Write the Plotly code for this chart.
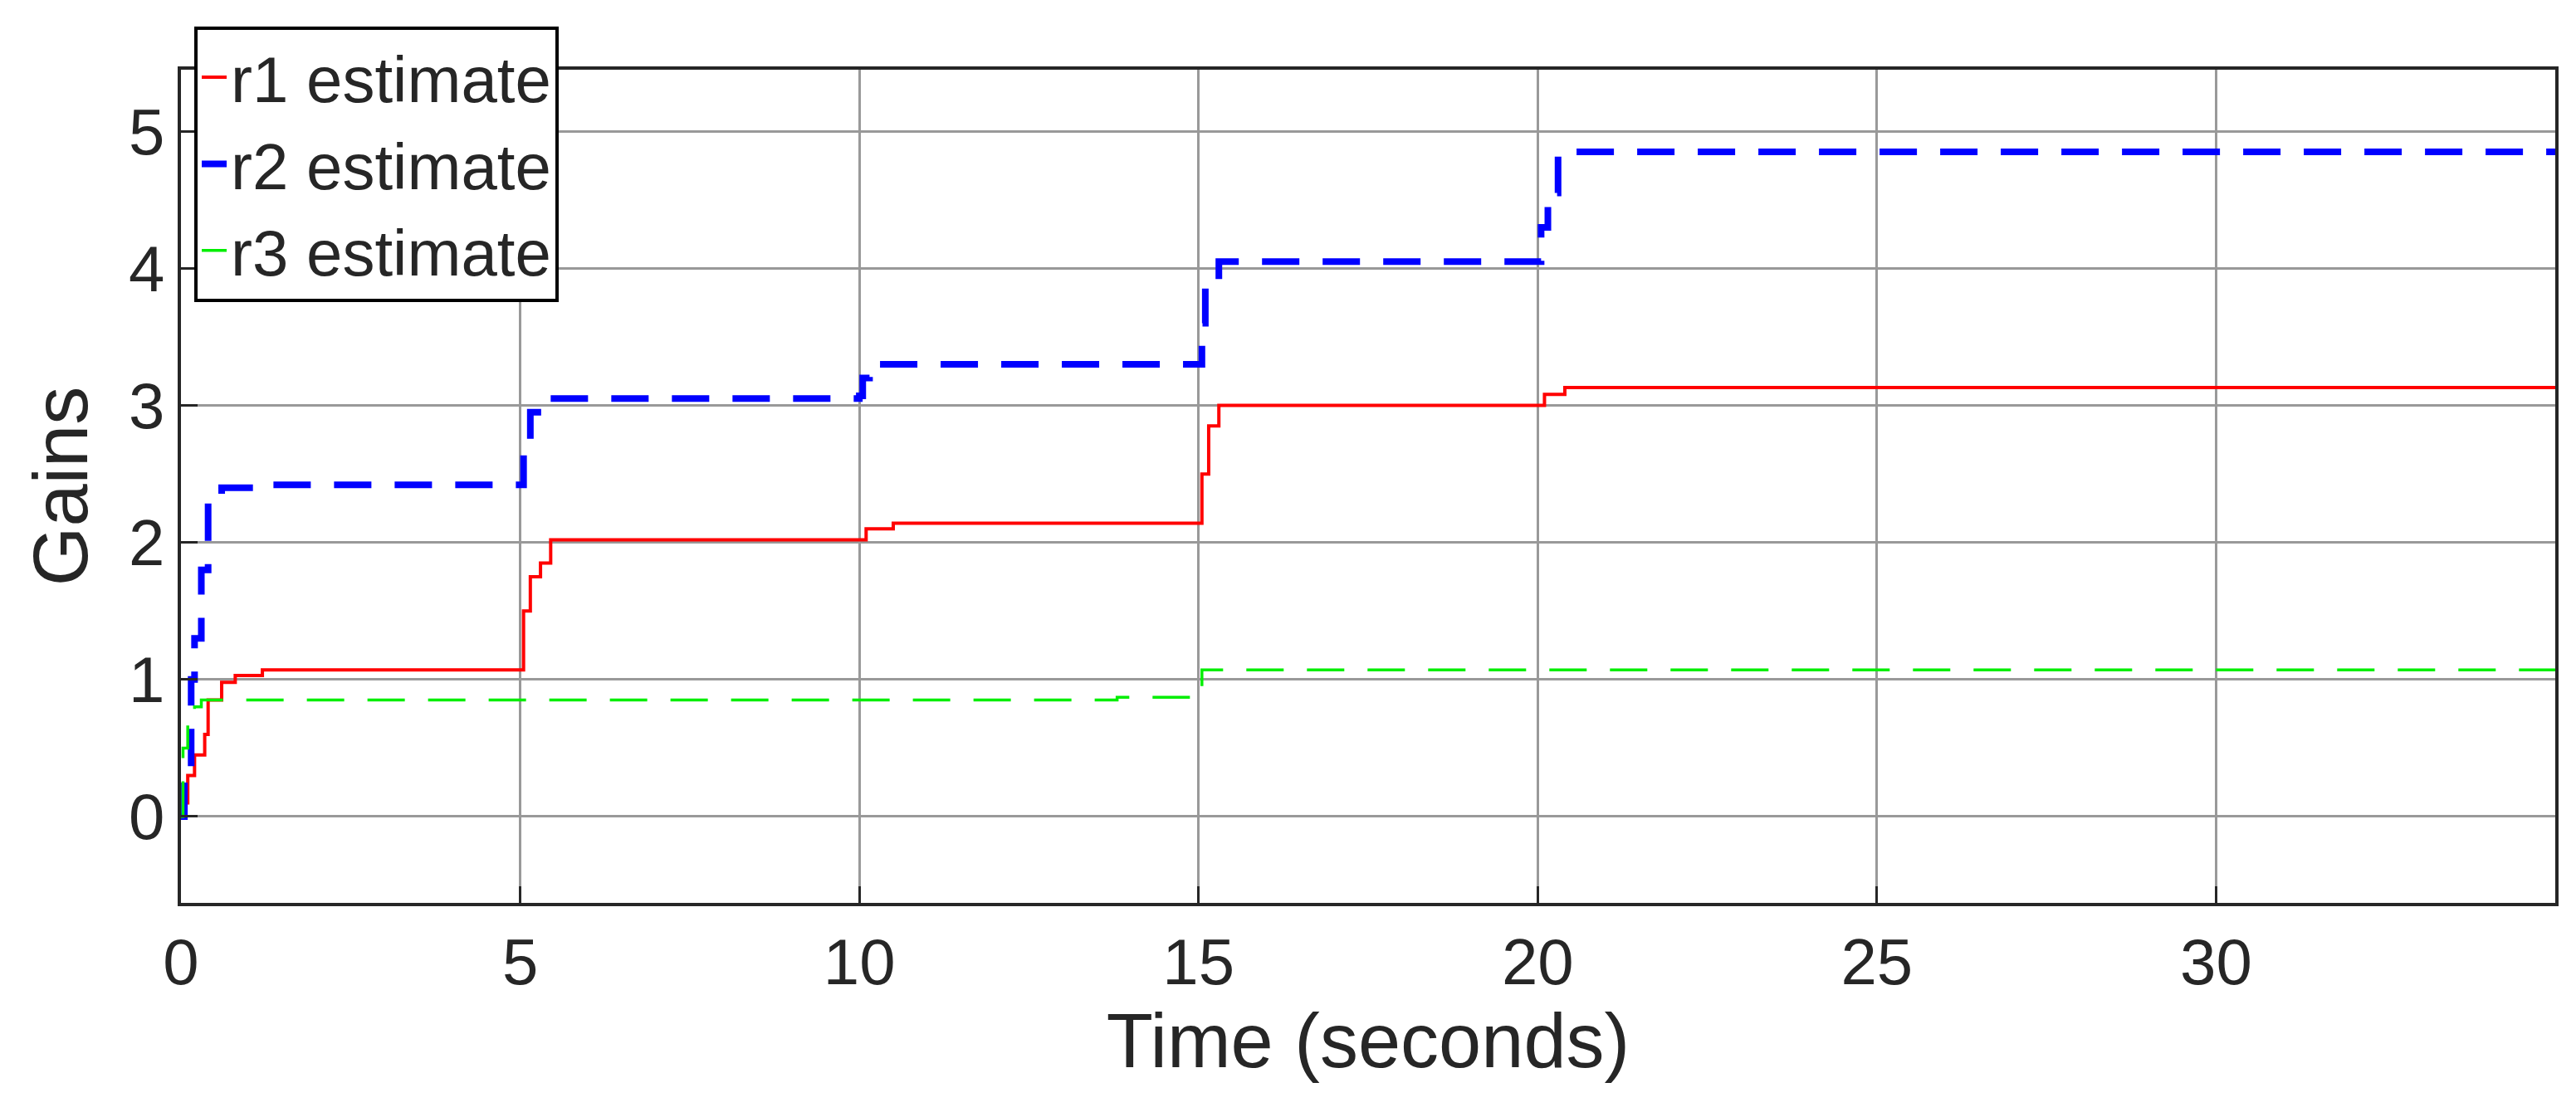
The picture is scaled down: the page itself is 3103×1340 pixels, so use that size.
import plotly.graph_objects as go

t1 = [0, 0.05, 0.1, 0.2, 0.35, 0.4, 0.6, 0.8, 1.2, 5.0, 5.05, 5.15, 5.3, 5.45, 10.0, 10.1, 10.5, 15.0, 15.05, 15.15, 15.3, 20.0, 20.1, 20.4, 35]
r1 = [0, 0.1, 0.3, 0.45, 0.6, 0.85, 0.98, 1.03, 1.07, 1.07, 1.5, 1.75, 1.85, 2.02, 2.02, 2.1, 2.14, 2.14, 2.5, 2.85, 3.0, 3.0, 3.08, 3.13, 3.13]
t2 = [0, 0.05, 0.15, 0.2, 0.3, 0.4, 0.6, 1.2, 5.0, 5.05, 5.15, 5.35, 10.0, 10.05, 10.15, 15.0, 15.05, 15.1, 15.3, 20.0, 20.05, 20.15, 20.3, 35]
r2 = [0, 0.3, 1.0, 1.3, 1.8, 2.3, 2.4, 2.42, 2.42, 2.7, 2.95, 3.05, 3.07, 3.2, 3.3, 3.3, 3.6, 3.9, 4.05, 4.05, 4.3, 4.55, 4.85, 4.85]
t3 = [0, 0.03, 0.1, 0.2, 0.3, 13.8, 15.0, 15.05, 35]
r3 = [0, 0.5, 0.75, 0.8, 0.85, 0.87, 0.88, 1.07, 1.07]
xticks = [0, 5, 10, 15, 20, 25, 30, 35]
yticks = [0, 1, 2, 3, 4, 5]

fig = go.Figure()
fig.add_trace(go.Scatter(x=t1, y=r1, mode="lines", line_shape="hv", name="r1 estimate",
                         line=dict(color="#ff0000", width=4)))
fig.add_trace(go.Scatter(x=t2, y=r2, mode="lines", line_shape="hv", name="r2 estimate",
                         line=dict(color="#0000ff", width=8, dash="45px,28px")))
fig.add_trace(go.Scatter(x=t3, y=r3, mode="lines", line_shape="hv", name="r3 estimate",
                         line=dict(color="#00ee00", width=3.5, dash="45px,28px")))

ax = dict(showline=True, linecolor="#262626", linewidth=4, mirror=True, ticks="inside",
          ticklen=20, tickwidth=3, tickcolor="#262626", showgrid=True, gridcolor="#999999",
          gridwidth=2.5, zeroline=False, tickfont=dict(family="Liberation Sans", size=78, color="#262626"))
fig.update_layout(
    width=3103, height=1340, paper_bgcolor="white", plot_bgcolor="white",
    margin=dict(l=210, r=33, t=76, b=260),
    xaxis=dict(ax, range=[0, 35.0001], tickvals=xticks,
               title=dict(text="Time (seconds)", font=dict(family="Liberation Sans", size=92, color="#262626"), standoff=15)),
    yaxis=dict(ax, range=[-0.63, 5.45], tickvals=yticks,
               title=dict(text="Gains", font=dict(family="Liberation Sans", size=92, color="#262626"), standoff=20)),
    legend=dict(x=0.0056, y=1.052, xanchor="left", yanchor="top", bgcolor="white",
                bordercolor="black", borderwidth=4,
                font=dict(family="Liberation Sans", size=78, color="#262626"), tracegroupgap=0),
)
fig.write_html("out.html")
